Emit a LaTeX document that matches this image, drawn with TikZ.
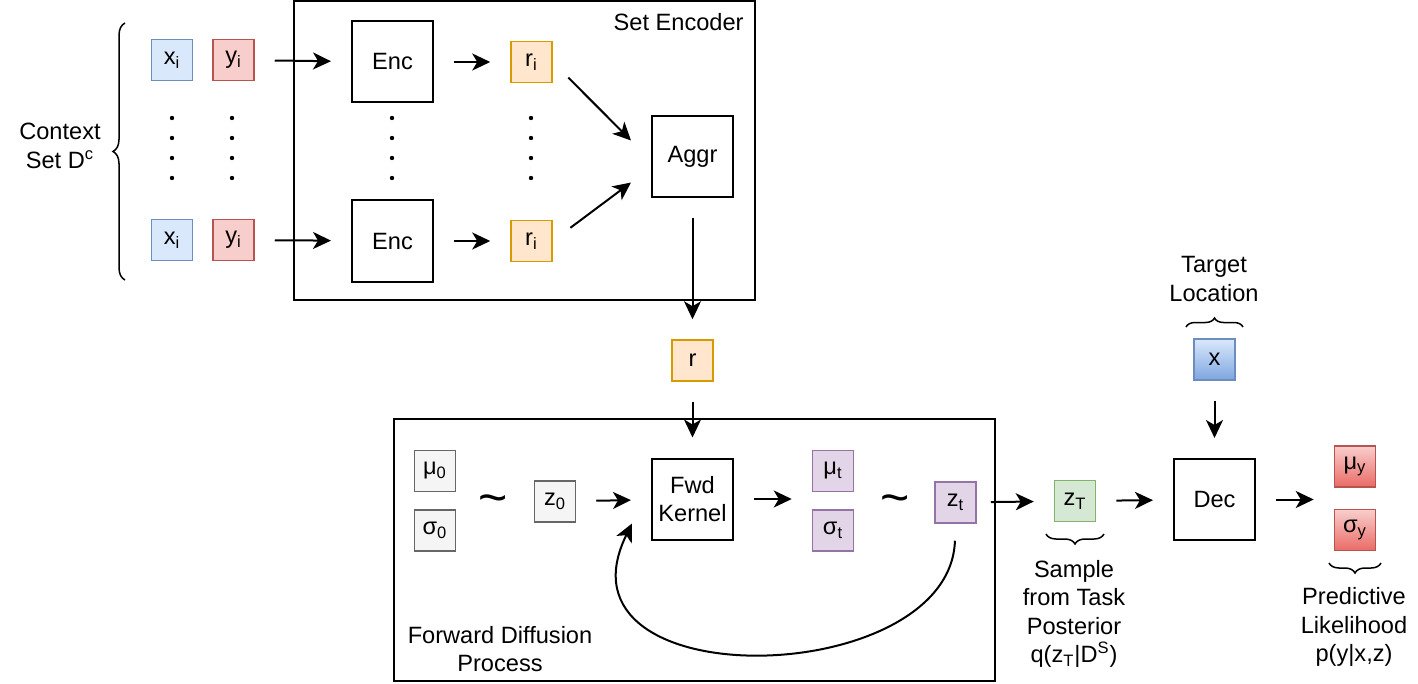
\documentclass[tikz,border=0pt]{standalone}
\usepackage{fontspec}
\setmainfont{Liberation Sans}
\usetikzlibrary{arrows.meta, positioning, calc, decorations.pathreplacing}

\definecolor{xfill}{HTML}{DAE8FC}
\definecolor{xdraw}{HTML}{6C8EBF}
\definecolor{xdark}{HTML}{7EA6E0}
\definecolor{yfill}{HTML}{F8CECC}
\definecolor{ydraw}{HTML}{B85450}
\definecolor{ydark}{HTML}{EA6B66}
\definecolor{rfill}{HTML}{FFE6CC}
\definecolor{rdraw}{HTML}{D79B00}
\definecolor{gfill}{HTML}{F5F5F5}
\definecolor{gdraw}{HTML}{666666}
\definecolor{pfill}{HTML}{E1D5E7}
\definecolor{pdraw}{HTML}{9673A6}
\definecolor{tfill}{HTML}{D5E8D4}
\definecolor{tdraw}{HTML}{82B366}

\begin{document}
\begin{tikzpicture}[
    x=0.5pt, y=-0.5pt,
    font=\fontsize{11.8}{14.2}\selectfont,
    node distance=9.5pt and 9.5pt,
    mybox/.style={draw, line width=0.75pt, minimum size=20.5pt, inner sep=0pt},
    mybig/.style={draw, line width=1pt, minimum size=40.5pt, inner sep=0pt, align=center},
    myframe/.style={draw, line width=1pt, inner sep=0pt},
    myarrow/.style={-{Stealth[length=9pt, width=8.5pt, inset=2.5pt]}, line width=1pt, shorten <=10pt, shorten >=10pt},
    mybrace/.style={decorate, decoration={brace, amplitude=#1}, line width=0.75pt},
    mybrace/.default=5pt,
    mytilde/.style={font=\fontsize{25}{25}\selectfont, inner sep=0pt},
    myblue/.style={fill=xfill, draw=xdraw},
    myred/.style={fill=yfill, draw=ydraw},
    myorange/.style={fill=rfill, draw=rdraw},
    mygray/.style={fill=gfill, draw=gdraw},
    mypurple/.style={fill=pfill, draw=pdraw},
    mygreen/.style={fill=tfill, draw=tdraw},
    mybluegrad/.style={top color=xfill, bottom color=xdark, draw=xdraw},
    myredgrad/.style={top color=yfill, bottom color=ydark, draw=ydraw},
]
\useasboundingbox (0,0) rectangle (1418,684);

% Containers
\node[myframe, minimum width=230.5pt, minimum height=149.5pt] (encoder) at (524.5,150.5) {};
\node[anchor=east, inner sep=0pt] (enclabel) at (744,22) {Set Encoder};
\node[myframe, minimum width=300.5pt, minimum height=131pt] (diffusion) at (694.5,550) {};
\node[align=center] (difflabel) at (500,649) {Forward Diffusion\\Process};

% Context set
\node[mybox, myblue] (x1) at (172,60) {x\textsubscript{i}};
\node[mybox, myred, right=of x1] (y1) {y\textsubscript{i}};
\node[mybox, myblue] (x2) at (172,240) {x\textsubscript{i}};
\node[mybox, myred, right=of x2] (y2) {y\textsubscript{i}};

% Set encoder
\node[mybig] (enc1) at (392.5,62) {Enc};
\node[mybig] (enc2) at (392.5,241) {Enc};
\node[mybox, myorange] (r1) at (531.5,62) {r\textsubscript{i}};
\node[mybox, myorange] (r2) at (531.5,241) {r\textsubscript{i}};
\node[mybig] (aggr) at (692.5,156.5) {Aggr};
\node[mybox, myorange] (r) at (692.5,360.5) {r};

% Forward diffusion
\node[mybox, mygray] (mu0) at (435,471) {μ\textsubscript{0}};
\node[mybox, mygray, below=8.5pt of mu0] (sig0) {σ\textsubscript{0}};
\node[mytilde] (tilde0) at (493,505) {\textasciitilde};
\node[mybox, mygray] (z0) at (555,501.5) {z\textsubscript{0}};
\node[mybig] (fwd) at (692.5,499) {Fwd\\Kernel};
\node[mybox, mypurple] (mut) at (833,471) {μ\textsubscript{t}};
\node[mybox, mypurple, below=8.5pt of mut] (sigt) {σ\textsubscript{t}};
\node[mytilde] (tildet) at (895,505) {\textasciitilde};
\node[mybox, mypurple] (zt) at (955.5,502.5) {z\textsubscript{t}};

% Decoder
\node[mybox, mygreen] (zT) at (1075,501) {z\textsubscript{T}};
\node[mybig] (dec) at (1214.5,499.5) {Dec};
\node[mybox, mybluegrad] (xloc) at (1214.5,359.5) {x};
\node[mybox, myredgrad] (muy) at (1355,466.5) {μ\textsubscript{y}};
\node[mybox, myredgrad, below=10.5pt of muy] (sigy) {σ\textsubscript{y}};

% Dots
\foreach \x in {172,232,392,531}
    \foreach \y in {118,138,158,178}
        \fill (\x,\y) circle (1.1pt);

% Arrows
\draw[myarrow] (y1) -- (enc1);
\draw[myarrow] (y2) -- (enc2);
\draw[myarrow] (enc1) -- (r1);
\draw[myarrow] (enc2) -- (r2);
\draw[myarrow, shorten <=11pt, shorten >=0pt] (r1.east) -- ($(aggr.west)+(-20,-16)$);
\draw[myarrow, shorten <=11pt, shorten >=0pt] (r2.east) -- ($(aggr.west)+(-20,26)$);
\draw[myarrow] (aggr) -- (r);
\draw[myarrow] (r) -- (fwd);
\draw[myarrow] (z0) -- (fwd);
\draw[myarrow] (fwd.east) -- (fwd.east -| mut.west);
\draw[myarrow, shorten <=8.5pt, shorten >=0pt] (zt.south) .. controls (950,690) and (545,700) .. ($(fwd.south west)+(-19,-17)$);
\draw[myarrow, shorten <=7pt] (zt) -- (zT);
\draw[myarrow] (zT) -- (dec);
\draw[myarrow] (xloc) -- (dec);
\draw[myarrow] (dec.east) -- (dec.east -| muy.west);

% Braces
\draw[mybrace=6pt] (125,280) -- (125,23);
\draw[mybrace=4.5pt] (1186,327) -- (1243,327);
\draw[mybrace=5pt] (1104,534) -- (1046,534);
\draw[mybrace=5pt] (1381,563) -- (1329,563);

% Labels
\node[align=center] (context) at (60,146) {Context\\Set D\textsuperscript{c}};
\node[align=center] (target) at (1214,279) {Target\\Location};
\node[align=center] (sample) at (1074,614) {Sample\\from Task\\Posterior\\q(z\textsubscript{T}|D\textsuperscript{S})};
\node[align=center] (predictive) at (1354,627) {Predictive\\Likelihood\\p(y|x,z)};

\end{tikzpicture}
\end{document}
